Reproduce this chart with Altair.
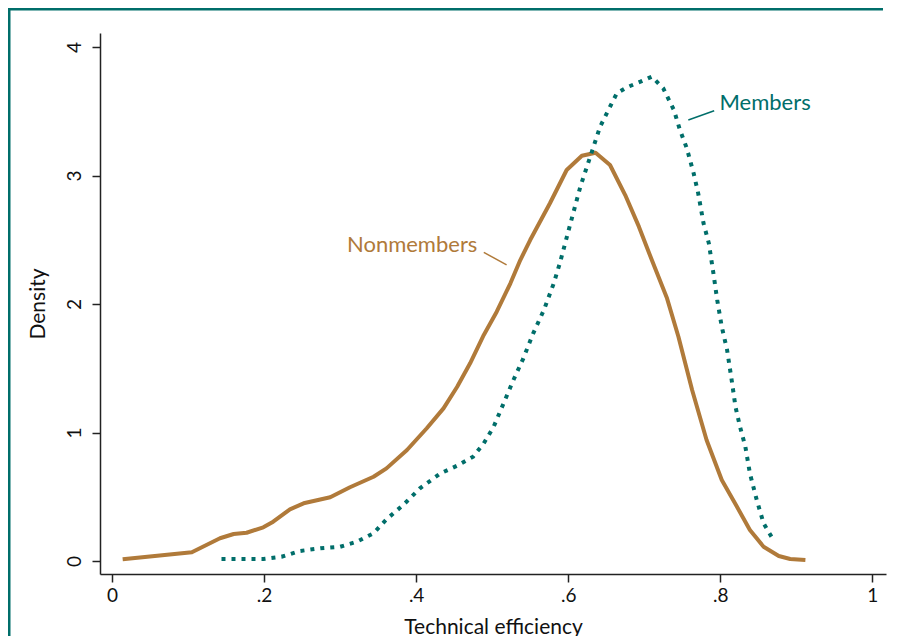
import altair as alt
import pandas as pd

# ---- data ----
non_x = [0.014, 0.105, 0.142, 0.160, 0.177, 0.199, 0.212, 0.234, 0.252, 0.287, 0.313, 0.344,
         0.361, 0.388, 0.414, 0.436, 0.454, 0.471, 0.489, 0.506, 0.524, 0.537, 0.550, 0.576,
         0.598, 0.618, 0.636, 0.655, 0.675, 0.693, 0.710, 0.730, 0.745, 0.763, 0.782, 0.802,
         0.822, 0.839, 0.857, 0.877, 0.892, 0.912]
non_y = [0.013, 0.068, 0.177, 0.210, 0.220, 0.262, 0.306, 0.402, 0.449, 0.496, 0.574, 0.656,
         0.721, 0.864, 1.033, 1.188, 1.356, 1.539, 1.759, 1.940, 2.161, 2.342, 2.498, 2.784,
         3.043, 3.154, 3.177, 3.082, 2.848, 2.602, 2.342, 2.044, 1.745, 1.331, 0.942, 0.630,
         0.422, 0.241, 0.111, 0.039, 0.016, 0.008]

mem_x = [0.144, 0.199, 0.223, 0.247, 0.274, 0.300, 0.322, 0.344, 0.361, 0.383, 0.405, 0.432,
         0.454, 0.475, 0.489, 0.502, 0.515, 0.528, 0.541, 0.554, 0.568, 0.581, 0.589, 0.603,
         0.616, 0.629, 0.642, 0.655, 0.664, 0.677, 0.695, 0.710, 0.725, 0.739, 0.747, 0.756,
         0.765, 0.771, 0.778, 0.785, 0.791, 0.796, 0.802, 0.809, 0.815, 0.820, 0.826, 0.833,
         0.839, 0.848, 0.857, 0.870]
mem_y = [0.016, 0.016, 0.033, 0.078, 0.099, 0.111, 0.150, 0.216, 0.325, 0.436, 0.566, 0.682,
         0.742, 0.812, 0.916, 1.045, 1.227, 1.409, 1.577, 1.772, 1.953, 2.161, 2.317, 2.628,
         2.913, 3.146, 3.380, 3.535, 3.640, 3.686, 3.730, 3.769, 3.679, 3.510, 3.354, 3.212,
         3.017, 2.861, 2.628, 2.472, 2.239, 2.031, 1.823, 1.642, 1.409, 1.201, 1.045, 0.890,
         0.682, 0.475, 0.293, 0.163]

x_ticks = [0, 0.2, 0.4, 0.6, 0.8, 1]
y_ticks = [0, 1, 2, 3, 4]

labels = ["Members", "Nonmembers"]
label_x = [0.799, 0.309]
label_y = [3.562, 2.459]
leader_x1 = [0.758, 0.489]
leader_y1 = [3.432, 2.402]
leader_x2 = [0.792, 0.519]
leader_y2 = [3.504, 2.304]

TEAL = "#006E6A"
BROWN = "#B07A3A"
FONT = "Lato"

W, H = 885, 628
PL, PT, PR, PB = 92, 25, 7, 62
PW, PH = W - PL - PR, H - PT - PB

xs = alt.Scale(domain=[-0.0158, 1.018], nice=False, zero=False)
ys = alt.Scale(domain=[-0.101, 4.109], nice=False, zero=False)

non_df = pd.DataFrame({"x": non_x, "y": non_y})
mem_df = pd.DataFrame({"x": mem_x, "y": mem_y})
lab_df = pd.DataFrame({"label": labels, "x": label_x, "y": label_y,
                       "x1": leader_x1, "y1": leader_y1, "x2": leader_x2, "y2": leader_y2})
one = pd.DataFrame({"a": [0]})

band = alt.Chart(one).mark_rule(color=TEAL, strokeWidth=3).encode(
    x=alt.value(-PL), x2=alt.value(W - PL - 10), y=alt.value(-PT + 1))
leftline = alt.Chart(one).mark_rule(color=TEAL, strokeWidth=3).encode(
    x=alt.value(-PL + 1), y=alt.value(-PT), y2=alt.value(H - PT))

non_line = alt.Chart(non_df).mark_line(color=BROWN, strokeWidth=4, strokeJoin="round").encode(
    x=alt.X("x:Q", scale=xs, axis=alt.Axis(
        values=x_ticks, title="Technical efficiency",
        labelExpr="datum.value == 0 ? '0' : datum.value == 1 ? '1' : '.' + format(datum.value * 10, 'd')")),
    y=alt.Y("y:Q", scale=ys, axis=alt.Axis(values=y_ticks, title="Density", labelAngle=270,
                                           format="d")),
    order="x:Q",
)
mem_line = alt.Chart(mem_df).mark_line(color=TEAL, strokeWidth=4, strokeDash=[4, 6],
                                       strokeCap="butt").encode(
    x=alt.X("x:Q", scale=xs), y=alt.Y("y:Q", scale=ys), order="x:Q")

leaders = alt.Chart(lab_df).mark_rule(strokeWidth=1.5).encode(
    x=alt.X("x1:Q", scale=xs), y=alt.Y("y1:Q", scale=ys), x2="x2:Q", y2="y2:Q",
    color=alt.Color("label:N", scale=alt.Scale(domain=labels, range=[TEAL, BROWN]), legend=None))

texts = alt.Chart(lab_df).mark_text(align="left", baseline="middle", font=FONT, fontSize=22).encode(
    x=alt.X("x:Q", scale=xs), y=alt.Y("y:Q", scale=ys), text="label:N",
    color=alt.Color("label:N", scale=alt.Scale(domain=labels, range=[TEAL, BROWN]), legend=None))

chart = alt.layer(band, leftline, non_line, mem_line, leaders, texts).properties(
    width=PW, height=PH,
    autosize=alt.AutoSizeParams(type="none"),
    padding={"left": PL, "top": PT, "right": PR, "bottom": PB},
).configure_view(stroke=None).configure_axis(
    grid=False, domainColor="#222222", domainWidth=1.5, tickColor="#222222", tickWidth=1.5,
    tickSize=8, labelFont=FONT, labelFontSize=19, labelColor="#111111",
    titleFont=FONT, titleFontSize=21, titleFontWeight="normal", titleColor="#111111",
).configure_axisX(labelPadding=4, titlePadding=11).configure_axisY(labelPadding=8, titlePadding=17)

chart.save("out.html", embed_options={"renderer": "svg", "actions": False})
